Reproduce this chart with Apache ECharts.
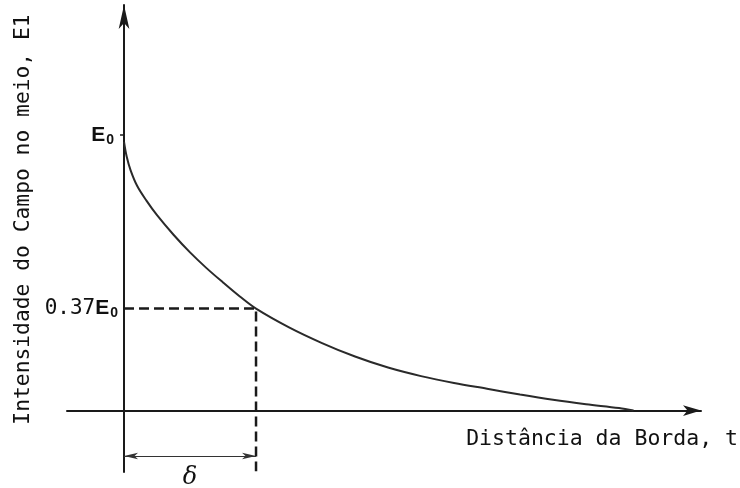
<!DOCTYPE html>
<html>
<head>
<meta charset="utf-8">
<script src="https://cdn.jsdelivr.net/npm/echarts@6/dist/echarts.min.js"></script>
<style>
  html, body { margin: 0; padding: 0; background: #fff; }
  #chart { width: 740px; height: 488px; }
</style>
</head>
<body>
<div id="chart"></div>
<script>
// Distance from the edge, in units of the skin depth (δ = 1)
const depth = [0, 0.02, 0.05, 0.1, 0.17, 0.25, 0.375, 0.5, 0.625, 0.75, 0.875, 1.0,
  1.25, 1.5, 1.75, 2.0, 2.25, 2.5, 2.75, 3.0, 3.25, 3.5, 3.75, 3.86];
// Field intensity in the medium, relative to E0
const intensity = [0.975, 0.922, 0.872, 0.815, 0.762, 0.709, 0.638, 0.574, 0.517, 0.465, 0.415, 0.37,
  0.302, 0.245, 0.196, 0.156, 0.125, 0.100, 0.079, 0.058, 0.039, 0.023, 0.009, 0.0];

const skinDepth = 1;          // δ
const level = 0.37;           // 0.37·E0 reached at t = δ
const yTickValues = [0.37, 1];
const yTickLabels = ['{m|0.37}{b|E}{s|0}', '{b|E}{s|0}{g|}'];
const xRange = [-0.432, 4.371];
const yRange = [-0.223, 1.472];
const bracketLevel = -0.165;  // height of the δ dimension arrow
const guideBottom = -0.22;    // lower end of the vertical guide

const axisColor = '#1a1a1a';
const mono = 'DejaVu Sans Mono';

const curveData = depth.map((t, i) => [t, intensity[i]]);
const guideData = [[0, level], [skinDepth, level], [skinDepth, guideBottom]];

const chart = echarts.init(document.getElementById('chart'), null, { renderer: 'canvas' });

chart.setOption({
  animation: false,
  grid: {
    left: 67, right: 39, top: 5, bottom: 16,
    containLabel: false,
    outerBoundsMode: 'none'
  },
  xAxis: {
    type: 'value',
    min: xRange[0],
    max: xRange[1],
    axisLine: {
      onZero: true,
      symbol: ['none', 'arrow'],
      symbolSize: [8, 18],
      lineStyle: { color: axisColor, width: 2 }
    },
    axisTick: { show: false },
    axisLabel: { show: false },
    splitLine: { show: false },
    name: 'Distância da Borda, t',
    nameLocation: 'end',
    nameGap: 37,
    nameTextStyle: {
      fontFamily: mono, fontSize: 21.5, color: '#111',
      align: 'right', verticalAlign: 'top', padding: [18, 0, 0, 0]
    }
  },
  yAxis: {
    type: 'value',
    min: yRange[0],
    max: yRange[1],
    axisLine: {
      onZero: true,
      symbol: ['none', 'arrow'],
      symbolSize: [8, 24],
      lineStyle: { color: axisColor, width: 2 }
    },
    axisTick: {
      show: true,
      customValues: [1],
      length: 4,
      lineStyle: { color: axisColor, width: 1.5 }
    },
    axisLabel: {
      show: true,
      customValues: yTickValues,
      margin: -51,
      formatter: function (v) {
        const i = yTickValues.findIndex(x => Math.abs(x - v) < 1e-6);
        return i >= 0 ? yTickLabels[i] : '';
      },
      rich: {
        m: { fontFamily: mono, fontSize: 21, color: '#111' },
        b: { fontFamily: 'Liberation Sans', fontWeight: 'bold', fontSize: 21, color: '#111' },
        s: { fontFamily: 'Liberation Sans', fontWeight: 'bold', fontSize: 14, color: '#111', padding: [10, 0, 0, 1] },
        g: { width: 4 }
      }
    },
    splitLine: { show: false },
    name: 'Intensidade do Campo no meio, E1',
    nameLocation: 'middle',
    nameRotate: 90,
    nameGap: 30,
    nameTextStyle: {
      fontFamily: mono, fontSize: 21.3, color: '#111',
      padding: [0, 0, 0, 38]
    }
  },
  series: [
    {
      name: 'campo',
      type: 'line',
      data: curveData,
      smooth: 0.35,
      symbol: 'none',
      lineStyle: { color: '#2a2a2a', width: 2 }
    },
    {
      name: 'guia',
      type: 'line',
      data: guideData,
      symbol: 'none',
      lineStyle: { color: '#1a1a1a', width: 2.5, type: [10, 5] },
      markLine: {
        silent: true,
        symbol: ['arrow', 'arrow'],
        symbolSize: [5, 14],
        lineStyle: { color: '#333', width: 1, type: 'solid' },
        label: {
          show: true,
          position: 'insideMiddleBottom',
          distance: 10,
          formatter: 'δ',
          fontFamily: 'DejaVu Serif',
          fontStyle: 'italic',
          fontSize: 24,
          color: '#111'
        },
        data: [[
          { coord: [0, bracketLevel] },
          { coord: [skinDepth, bracketLevel] }
        ]]
      }
    }
  ]
});
</script>
</body>
</html>
